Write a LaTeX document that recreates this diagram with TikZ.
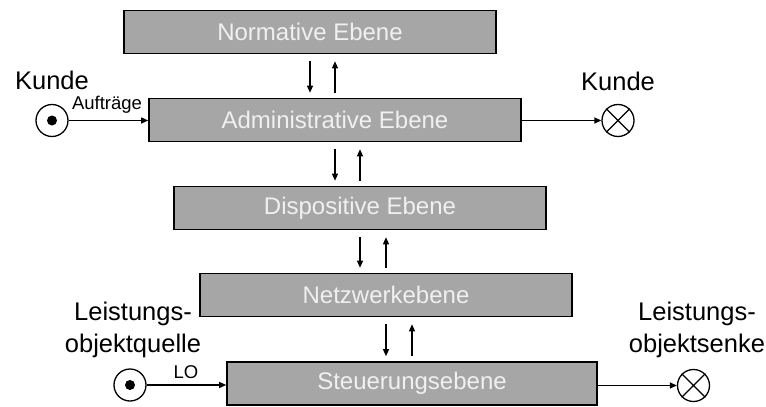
\documentclass[tikz,border=0pt]{standalone}
\usepackage{fontspec}
\setmainfont{Liberation Sans}
\usetikzlibrary{arrows.meta,calc}
\definecolor{boxgray}{HTML}{A6A6A6}
\definecolor{boxtext}{HTML}{F0F0F0}
\begin{document}
\begin{tikzpicture}[x=1pt,y=-1pt,
  level/.style={draw=black,line width=1.6pt,fill=boxgray,text=boxtext,
    minimum width=372pt,minimum height=43pt,inner sep=0pt,
    font=\fontsize{24}{28}\selectfont},
  lbl/.style={font=\fontsize{25.5}{32}\selectfont,align=center,inner sep=0pt},
  small/.style={font=\fontsize{18.5}{20}\selectfont,inner sep=0pt},
  flow/.style={line width=1.3pt,-{Triangle[length=7pt,width=6pt]}},
  src/.style={circle,draw,line width=1.3pt,minimum size=32pt,inner sep=0pt},
  snk/.style={circle,draw,line width=1.3pt,minimum size=32pt,inner sep=0pt}]
\useasboundingbox (0,0) rectangle (766,407);

\node[level] (norm) at (310,32) {Normative Ebene};
\node[level] (admin) at (335,120) {Administrative Ebene};
\node[level] (disp) at (360,208) {Dispositive Ebene};
\node[level] (netz) at (386,295) {Netzwerkebene};
\node[level,minimum width=370pt] (steu) at (412,383.5) {Steuerungsebene};

% vertical arrows
\draw[flow] ([yshift=-7pt]norm.south) -- ([yshift=5pt]norm.south |- admin.north);
\coordinate (u1s) at ([yshift=5pt]admin.north);
\coordinate (u1e) at ([yshift=-7pt]admin.north |- norm.south);
\draw[flow] (u1s) -- (u1e);

\draw[flow] ([yshift=-7pt]admin.south) -- ([yshift=5pt]admin.south |- disp.north);
\coordinate (u2s) at ([yshift=5pt]disp.north);
\coordinate (u2e) at ([yshift=-7pt]disp.north |- admin.south);
\draw[flow] (u2s) -- (u2e);

\draw[flow] ([yshift=-7pt]disp.south) -- ([yshift=5pt]disp.south |- netz.north);
\coordinate (u3s) at ([yshift=5pt]netz.north);
\coordinate (u3e) at ([yshift=-7pt]netz.north |- disp.south);
\draw[flow] (u3s) -- (u3e);

\draw[flow] ([yshift=-7pt]netz.south) -- ([yshift=5pt]netz.south |- steu.north);
\coordinate (u4s) at ([yshift=5pt]steu.north);
\coordinate (u4e) at ([yshift=-7pt]steu.north |- netz.south);
\draw[flow] (u4s) -- (u4e);

% customer source / sink
\node[src] (ksrc) at (52,120.5) {};
\fill (ksrc.center) circle (5pt);
\node[snk] (ksnk) at (618,120.5) {};
\draw[line width=1.3pt] (ksnk.north west) -- (ksnk.south east) (ksnk.north east) -- (ksnk.south west);
\draw[flow] (ksrc.east) -- (ksrc.east -| admin.west);
\draw[flow] (admin.east |- ksnk.west) -- (ksnk.west);
\node[lbl] (kl) at (52,80) {Kunde};
\node[lbl] (kr) at (618,81) {Kunde};
\node[small] (auf) at (107,105) {Aufträge};

% LO source / sink
\node[src] (lsrc) at (130,385) {};
\fill (lsrc.center) circle (5pt);
\node[snk] (lsnk) at (693.5,385.5) {};
\draw[line width=1.3pt] (lsnk.north west) -- (lsnk.south east) (lsnk.north east) -- (lsnk.south west);
\draw[flow] (lsrc.east) -- (lsrc.east -| steu.west);
\draw[flow] (steu.east |- lsnk.west) -- (lsnk.west);
\node[lbl] (lq) at (133,330) {Leistungs-\\objektquelle};
\node[lbl] (ls) at (697,330) {Leistungs-\\objektsenke};
\node[small] (lo) at (186,372) {LO};
\end{tikzpicture}
\end{document}
